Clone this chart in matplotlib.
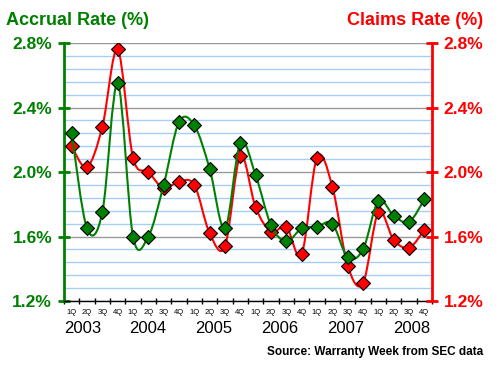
import numpy as np
import matplotlib.pyplot as plt
from matplotlib.path import Path
from matplotlib.patches import PathPatch

quarters = ['1Q', '2Q', '3Q', '4Q'] * 6
years = ['2003', '2004', '2005', '2006', '2007', '2008']
accrual = [2.24, 1.65, 1.75, 2.55, 1.60, 1.60, 1.92, 2.31, 2.29, 2.02, 1.65, 2.18,
           1.98, 1.67, 1.57, 1.65, 1.66, 1.68, 1.47, 1.52, 1.82, 1.73, 1.69, 1.83]
claims = [2.16, 2.03, 2.28, 2.76, 2.09, 2.00, 1.90, 1.94, 1.92, 1.62, 1.54, 2.10,
          1.78, 1.63, 1.66, 1.49, 2.09, 1.91, 1.42, 1.31, 1.75, 1.58, 1.53, 1.64]

GREEN = '#008000'
RED = '#ff0000'


def smooth_path(x, y):
    # catmull-rom style bezier segments, like a spreadsheet "smoothed line"
    pts = np.column_stack([x, y])
    p = np.vstack([pts[0], pts, pts[-1]])
    verts = [pts[0]]
    codes = [Path.MOVETO]
    for i in range(1, len(p) - 2):
        c1 = p[i] + (p[i + 1] - p[i - 1]) / 6
        c2 = p[i + 1] - (p[i + 2] - p[i]) / 6
        verts += [c1, c2, p[i + 1]]
        codes += [Path.CURVE4] * 3
    return Path(verts, codes)


fig = plt.figure(figsize=(5, 3.65), dpi=100)
ax = fig.add_axes([0.128, 0.1753, 0.736, 0.7068])
ax2 = ax.twinx()

x = np.arange(len(accrual))
ax.set_xlim(-0.5, len(accrual) - 0.5)
ax.set_ylim(1.2, 2.8)
ax2.set_ylim(1.2, 2.8)

# grid
for v in np.arange(1.2, 2.81, 0.08):
    major = abs((v - 1.2) / 0.4 - round((v - 1.2) / 0.4)) < 1e-6
    ax.axhline(v, color='#999999' if major else '#a6cdf5', lw=1, zorder=0.5)

ax.add_patch(PathPatch(smooth_path(x, claims), fill=False, edgecolor=RED, lw=1.5, zorder=2))
ax.plot(x, claims, ls='none', marker='D', ms=7, mfc=RED, mec='black', mew=0.8, zorder=3)
ax.add_patch(PathPatch(smooth_path(x, accrual), fill=False, edgecolor=GREEN, lw=1.5, zorder=4))
ax.plot(x, accrual, ls='none', marker='D', ms=7, mfc=GREEN, mec='black', mew=0.8, zorder=5)

for a in (ax, ax2):
    a.spines['top'].set_visible(False)
ax.spines['right'].set_visible(False)
ax.spines['left'].set_color(GREEN)
ax.spines['left'].set_linewidth(2)
ax2.spines['left'].set_visible(False)
ax2.spines['bottom'].set_visible(False)
ax2.spines['right'].set_color(RED)
ax2.spines['right'].set_linewidth(2)
ax.spines['bottom'].set_linewidth(1)

yt = [1.2, 1.6, 2.0, 2.4, 2.8]
ylabels = ['%.1f%%' % v for v in yt]
ax.set_yticks(yt)
ax.set_yticklabels(ylabels, color=GREEN, fontweight='bold', fontsize=12.5, family='Liberation Sans')
ax.tick_params(axis='y', direction='inout', length=9, width=2, color=GREEN, pad=4)
ax2.set_yticks(yt)
ax2.set_yticklabels(ylabels, color=RED, fontweight='bold', fontsize=12.5, family='Liberation Sans')
ax2.tick_params(axis='y', direction='inout', length=9, width=2, color=RED, pad=4)

ax.set_xticks(np.arange(-0.5, len(accrual), 1))
ax.set_xticklabels([])
ax.tick_params(axis='x', direction='inout', length=5, width=1, color='black')

for i, q in enumerate(quarters):
    ax.text(i, -0.045, q, transform=ax.get_xaxis_transform(), ha='center', va='center',
            fontsize=5.5, family='Liberation Sans')
year_pos = [0.7, 4.98, 9.28, 13.58, 17.9, 22.2]
for xp, yr in zip(year_pos, years):
    ax.text(xp, -0.105, yr, transform=ax.get_xaxis_transform(), ha='center', va='center',
            fontsize=12, family='Liberation Sans')

fig.text(0.012, 0.945, 'Accrual Rate (%)', color=GREEN, fontweight='bold', fontsize=13,
         family='Liberation Sans', ha='left', va='center')
fig.text(0.966, 0.945, 'Claims Rate (%)', color=RED, fontweight='bold', fontsize=13,
         family='Liberation Sans', ha='right', va='center')
fig.text(0.966, 0.035, 'Source: Warranty Week from SEC data', fontweight='bold', fontsize=8.5,
         family='Liberation Sans', ha='right', va='center')

fig.savefig('out.png', dpi=100)
